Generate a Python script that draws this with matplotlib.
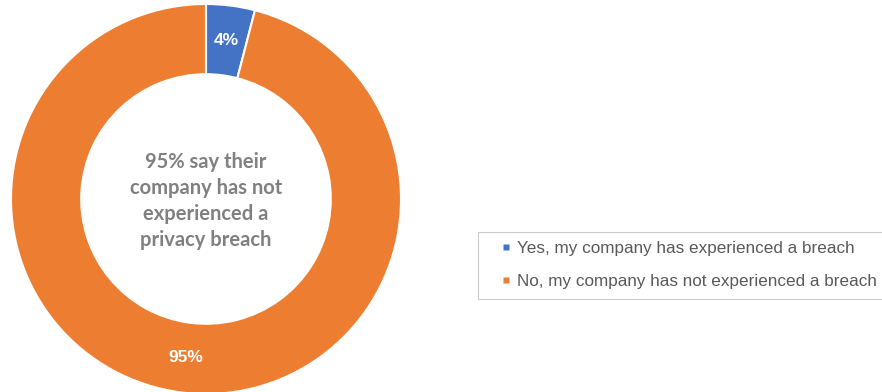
import matplotlib.pyplot as plt
from matplotlib.lines import Line2D

# breach survey shares
labels = ['Yes, my company has experienced a breach',
          'No, my company has not experienced a breach']
values = [4, 95]
colors = ['#4472C4', '#ED7D31']
center_text = '95% say their\ncompany has not\nexperienced a\nprivacy breach'

W, H = 882, 392
fig = plt.figure(figsize=[W / 100, H / 100], dpi=100)

# donut axes: centre at (206, 199) px, outer radius 195 px
cx, cy, R = 206, 199, 195
ax = fig.add_axes([(cx - R) / W, (H - cy - R) / H, 2 * R / W, 2 * R / H])
wedges, _, autotexts = ax.pie(values, colors=colors, startangle=90, counterclock=False,
                              radius=1, autopct=lambda p: '%d%%' % round(p * sum(values) / 100),
                              pctdistance=0.82,
                              wedgeprops=dict(width=0.36, edgecolor='white', linewidth=1.5),
                              textprops=dict(color='white', fontsize=12.5, fontweight='bold',
                                             family='Liberation Sans'))
ax.set_xlim(-1, 1)
ax.set_ylim(-1, 1)
ax.set_aspect('equal')
ax.axis('off')

ax.text(0, -0.01, center_text, ha='center', va='center', color='#808080',
        fontsize=14.5, fontweight='bold', family='Lato', linespacing=1.38)

# small square markers for the legend
handles = [Line2D([], [], ls='none', marker='s', markersize=4.5,
                  markerfacecolor=c, markeredgecolor='none') for c in colors]
leg = fig.legend(handles, labels, loc='upper left',
                 bbox_to_anchor=(478 / W, 1 - 232 / H),
                 prop=dict(family='Liberation Sans', size=12.3),
                 handlelength=2.2, handletextpad=-0.45,
                 labelspacing=1.05, borderpad=0.55, borderaxespad=0,
                 frameon=True, fancybox=False, edgecolor='#BFBFBF',
                 labelcolor='#595959')
leg.get_frame().set_linewidth(0.8)

plt.savefig('out.png', dpi=100)
